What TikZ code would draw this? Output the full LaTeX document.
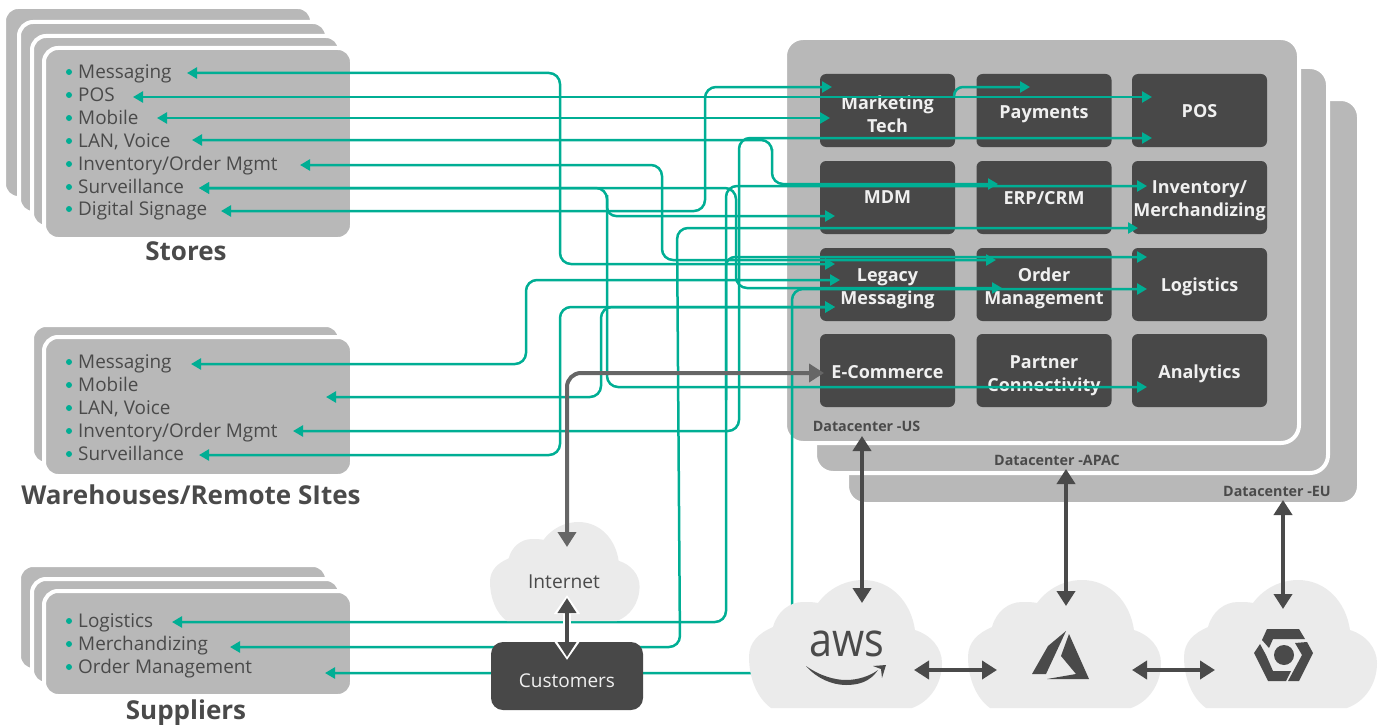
\documentclass[tikz,border=0pt]{standalone}
\usepackage{fontspec}
\setmainfont{Open Sans}
\usetikzlibrary{arrows.meta}

\definecolor{flowgreen}{HTML}{00AE94}
\definecolor{cardgray}{HTML}{B8B8B8}
\definecolor{tilegray}{HTML}{484848}
\definecolor{cloudgray}{HTML}{EBEBEB}
\definecolor{inkgray}{HTML}{4A4A4A}
\definecolor{netgray}{HTML}{666666}

\tikzset{
  cardbox/.style={fill=cardgray,draw=white,line width=4pt,rounded corners=14pt},
  tile/.style={fill=tilegray,rounded corners=6pt,inner sep=0pt,
    minimum width=135pt,minimum height=73pt},
  tiletext/.style={inner sep=0pt,text=white!94!black,align=center,
    font=\bfseries\fontsize{18}{23}\selectfont},
  listitem/.style={anchor=base west,inner sep=0pt,text=inkgray,font=\fontsize{18.9}{22}\selectfont},
  title/.style={inner sep=0pt,text=inkgray,font=\bfseries\fontsize{26}{30}\selectfont},
  dclabel/.style={inner sep=0pt,text=inkgray,font=\bfseries\fontsize{14.3}{16}\selectfont},
  flow/.style={draw=flowgreen,line width=2.5pt,rounded corners=11pt,
    >={Triangle[length=10pt,width=11pt,fill=flowgreen]}},
  netlink/.style={draw=netgray,line width=4pt,rounded corners=14pt,
    >={Triangle[length=15pt,width=18pt,fill=netgray]}},
  halo/.style={draw=white,line width=8pt,
    >={Triangle[length=19pt,width=25pt,fill=white]}},
  linkdark/.style={draw=inkgray,line width=4pt,
    >={Triangle[length=15pt,width=18pt,fill=inkgray]}},
  cloudshape/.pic={
    \fill[cloudgray] (22,128) .. controls (8,118) and (0,98) .. (0,77)
      .. controls (0,62) and (10,53) .. (24,47)
      .. controls (28,32) and (40,22) .. (54,22)
      .. controls (60,22) and (65,22) .. (69,23)
      .. controls (80,8) and (97,0) .. (114,0)
      .. controls (142,0) and (162,22) .. (166,50)
      .. controls (182,55) and (193,68) .. (193,83)
      .. controls (193,105) and (180,122) .. (163,128) -- cycle;
  }
}

\begin{document}
\begin{tikzpicture}[x=1pt,y=-1pt]
  \useasboundingbox (0,0) rectangle (1381,725);
  % cards
  \foreach \x/\y/\w/\h in {6/9/304/187,21/24/304/187,34/38/304/187,46/50/304/187,
      34/327/304/135,46/339/304/135,
      21/567/304/101,34/581/304/101,46/593/304/101}
    \draw[cardbox] (\x-2,\y-2) rectangle ++(\w+4,\h+4);
  \foreach \x/\y/\w/\h in {849/101/508/401,817/69/509/402,787/40/510/401}
    \draw[cardbox,rounded corners=18pt] (\x-2,\y-2) rectangle ++(\w+4,\h+4);
  % lists
  \foreach \n/\y/\t in {sa/72/Messaging,sb/95/POS,sc/118/Mobile,sd/141/{LAN, Voice},
      se/164/{Inventory/Order Mgmt},sf/187/Surveillance,sg/209/{Digital Signage},
      wa/362/Messaging,wb/385/Mobile,wc/408/{LAN, Voice},
      wd/431/{Inventory/Order Mgmt},we/454/Surveillance,
      ua/621/Logistics,ub/644/Merchandizing,uc/667/{Order Management}}{
    \fill[flowgreen] (69,\y) circle (3pt);
    \node[listitem] (\n) at (78,\y+6.4) {\t};
  }
  \node[title] (stores) at (186,251.5) {Stores};
  \node[title] (sites) at (191,495) {Warehouses/Remote SItes};
  \node[title] (suppliers) at (186,713) {Suppliers};
  \node[dclabel] (dcus) at (866.5,426) {Datacenter -US};
  \node[dclabel] (dcapac) at (1057,460) {Datacenter -APAC};
  \node[dclabel] (dceu) at (1277,491) {Datacenter -EU};
  % datacenter tiles
  \foreach \n/\x/\y/\d/\t in {ta/887.5/110.5/4/{Marketing\\Tech},tb/1044/110.5/3.5/Payments,tc/1199.5/110.5/1/POS,
      td/887.5/197.5/0/MDM,te/1044/197.5/0.5/{ERP/CRM},tf/1199.5/197.5/3/{Inventory/\\Merchandizing},
      tg/887.5/284.5/4/{Legacy\\Messaging},th/1044/284.5/4/{Order\\Management},ti/1199.5/284.5/2/Logistics,
      tj/887.5/370.5/2/E-Commerce,tk/1044/370.5/5/{Partner\\Connectivity},tl/1199.5/370.5/3/Analytics}{
    \node[tile] (\n) at (\x,\y) {};
    \node[tiletext] (\n-text) at (\x,\y+\d) {\t};
  }
  % ends and bends of the flows
  \foreach \n/\x/\y in {
      fsa/187/73,fsb/133/97,fsc/157/118,fsd/192/140,fse/300/165,fsf/199/188,fsg/221/211,
      fwa/191/364,fwb/326/397,fwd/293/431,fwe/199/455,
      fua/172/622,fub/230/647,fuc/325/673,
      bsa/560/150,bse/662/200,bsd/772/160,bsg/705/150,bsf/607/300,bsh/736/240,bsi/607/195,
      bwa/526/320,bwb/601/350,bwd/739/300,bwe/560/380,bua/726/400,buc/792/450,bpay/954/97,
      mera/680/647,merb/677/228,
      tma/832/87,tmb/830/118,tpay/1030/87,tpa/1152/97,tpb/1152/138,tmd/835/216,
      ter/998/184,tina/1147/186,tinb/1138/228,tlm/835/264,tlb/840/280,tlc/835/307,
      toa/996/260,tob/1002/288,tla/1147/257,tlo/1147/289,tan/1147/387}
    \coordinate (\n) at (\x,\y);
  % flows
  \foreach \from/\via/\to in {fsa/bsa/tlm,fse/bse/toa,fsd/bsd/ter,fsg/bsg/tma,fsf/bsf/tan,fsf/bsh/tob,
      fwa/bwa/tlb,fwb/bwb/tlc,fwd/bwd/tpb,fwe/bwe/tlc,fua/bua/tina,fuc/buc/tlo}
    \draw[flow,<->] (\from) -| (\via) |- (\to);
  \foreach \from/\to in {fsb/tpa,fsc/tmb}
    \draw[flow,<->] (\from) -- (\to);
  \draw[flow,<->] (fub) -- (mera) -- (merb) -- (tinb);
  \foreach \from/\to in {bpay/tpay,bsi/tmd,bua/tla}
    \draw[flow,->,rounded corners=9pt] (\from) |- (\to);
  % clouds
  \pic[scale=.775] at (490,522) {cloudshape};
  \pic at (749,580) {cloudshape};
  \pic at (968,580) {cloudshape};
  \pic at (1184,580) {cloudshape};
  \node[inner sep=0pt,text=inkgray,font=\fontsize{19.2}{22}\selectfont] (internet) at (564,582) {Internet};
  \node[tile,minimum width=152pt,minimum height=68pt,rounded corners=12pt] (customers) at (567,676) {};
  \node[inner sep=0pt,text=white!94!black,font=\fontsize{19}{22}\selectfont] (customers-text) at (567,681) {Customers};
  % logos
  \node[inner sep=0pt,text=inkgray,font=\fontsize{47}{47}\selectfont,xscale=.88,transform shape] (aws) at (847,644) {aws};
  \fill[inkgray] (806,666) .. controls (820,676) and (835,680) .. (846,680)
    .. controls (858,680) and (870,676) .. (878,670)
    .. controls (870,682) and (858,685) .. (846,685)
    .. controls (832,685) and (816,678) .. (806,666) -- cycle;
  \fill[inkgray] (873,666) -- (886,665) -- (882,678) -- (881,669) -- cycle;
  \fill[inkgray] (1066,631) -- (1048,646) -- (1032,674) -- (1046,674) -- cycle;
  \fill[inkgray] (1069,634) -- (1061,656) -- (1076,674) -- (1047,679) -- (1089,679) -- cycle;
  \fill[inkgray] (1267,629) -- (1299,629) -- (1305,639) -- (1273,639) -- (1269,648) -- (1262,640) -- cycle;
  \fill[inkgray] (1260,644) -- (1254,653) -- (1268,681) -- (1286,681) -- (1291,671) -- (1273,671) -- (1266,655) -- cycle;
  \fill[inkgray] (1307,642) -- (1313,653) -- (1299,681) -- (1288,681) -- (1302,655) -- (1295,643) -- cycle;
  \fill[inkgray] (1284,655) circle (10pt);
  % grey links
  \foreach \n/\x/\y in {nt/567/547,ne/824/373,ni/567/598,nc/567/657,
      ua/862/436,ub/862/603,va/1066/469,vb/1066/606,xa/1283/500,xb/1283/609,
      ha/914/670,hb/997/670,hc/1132/670,hd/1215/670}
    \coordinate (\n) at (\x,\y);
  \draw[netlink,<->] (nt) |- (ne);
  \draw[halo,<->] ([yshift=3pt]ni) -- ([yshift=-3pt]nc);
  \draw[linkdark,<->] (ni) -- (nc);
  \foreach \from/\to in {ua/ub,va/vb,xa/xb,ha/hb,hc/hd}
    \draw[linkdark,<->] (\from) -- (\to);
\end{tikzpicture}
\end{document}
